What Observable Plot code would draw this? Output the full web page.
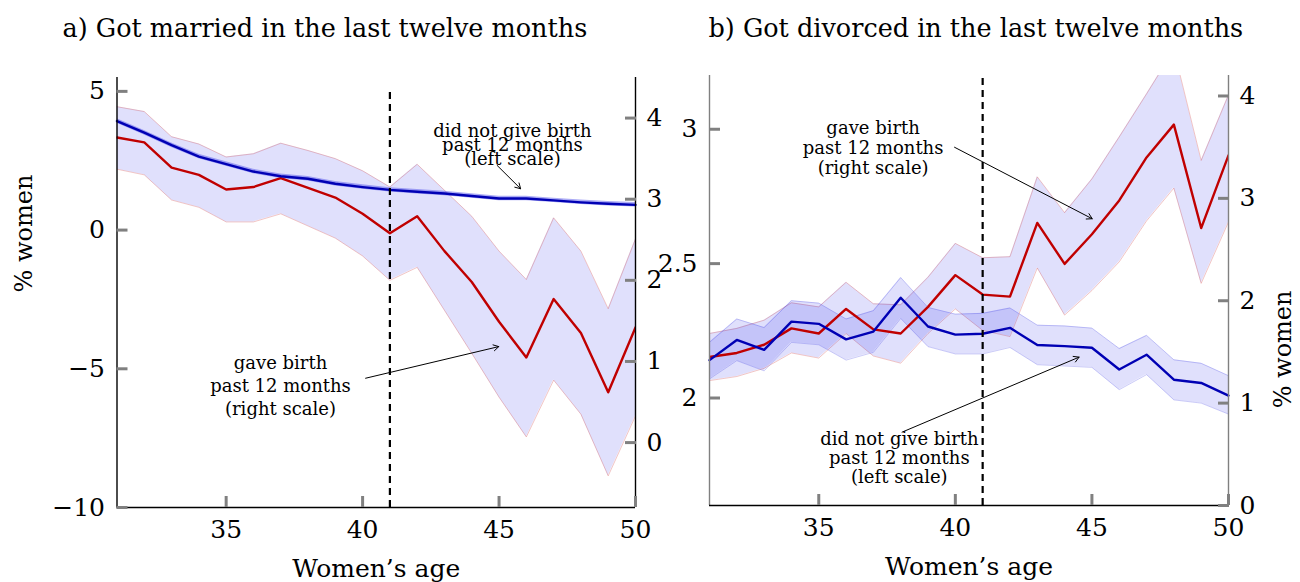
<!DOCTYPE html>
<html><head><meta charset="utf-8">
<script src="https://cdn.jsdelivr.net/npm/d3@7"></script>
<script src="https://cdn.jsdelivr.net/npm/@observablehq/plot@0.6"></script>
<style>
html,body{margin:0;padding:0;background:#fff;}
#wrap{position:relative;width:1300px;height:582px;overflow:hidden;}
#wrap svg{position:absolute;top:0;overflow:visible;}
</style></head><body><div id="wrap"></div>
<script>
// ---------- data ----------
const ages = [31,32,33,34,35,36,37,38,39,40,41,42,43,44,45,46,47,48,49,50];
const cutoffAge = 41;

// Panel a: got married (left scale: did not give birth; right scale: gave birth)
const marriedNoBirth   = [3.93,3.51,3.06,2.65,2.38,2.11,1.94,1.85,1.67,1.55,1.45,1.38,1.32,1.23,1.14,1.14,1.07,1.00,0.95,0.91];
const marriedNoBirthLo = [3.85,3.43,2.98,2.57,2.30,2.03,1.86,1.77,1.59,1.47,1.37,1.30,1.24,1.15,1.06,1.06,0.99,0.92,0.87,0.83];
const marriedNoBirthHi = [4.01,3.59,3.14,2.73,2.46,2.19,2.02,1.93,1.75,1.63,1.53,1.46,1.40,1.31,1.22,1.22,1.15,1.08,1.03,0.99];
const marriedBirth     = [3.76,3.70,3.39,3.30,3.12,3.15,3.26,3.14,3.02,2.82,2.58,2.79,2.36,1.98,1.49,1.05,1.77,1.35,0.62,1.42];
const marriedBirthLo   = [3.37,3.30,2.99,2.90,2.72,2.72,2.82,2.67,2.52,2.30,2.00,2.16,1.63,1.10,0.56,0.07,0.77,0.35,-0.41,0.33];
const marriedBirthHi   = [4.14,4.08,3.77,3.68,3.52,3.56,3.69,3.60,3.50,3.35,3.15,3.43,3.11,2.79,2.36,2.01,2.77,2.36,1.65,2.51];

// Panel b: got divorced
const divorcedNoBirth   = [2.141,2.216,2.179,2.284,2.276,2.218,2.247,2.373,2.266,2.236,2.239,2.261,2.197,2.193,2.187,2.106,2.161,2.068,2.056,2.009];
const divorcedNoBirthLo = [2.071,2.139,2.101,2.207,2.198,2.141,2.170,2.296,2.191,2.164,2.164,2.188,2.124,2.119,2.114,2.031,2.087,1.993,1.981,1.940];
const divorcedNoBirthHi = [2.207,2.294,2.262,2.362,2.353,2.294,2.325,2.448,2.337,2.312,2.315,2.335,2.271,2.268,2.260,2.184,2.233,2.142,2.129,2.083];
const divorcedBirth     = [1.45,1.49,1.57,1.73,1.68,1.92,1.72,1.68,1.94,2.25,2.06,2.04,2.76,2.36,2.65,2.98,3.40,3.72,2.71,3.42];
const divorcedBirthLo   = [1.22,1.26,1.34,1.49,1.44,1.68,1.46,1.39,1.68,1.92,1.71,1.65,2.32,1.86,2.10,2.38,2.78,3.10,2.17,2.77];
const divorcedBirthHi   = [1.68,1.73,1.81,1.98,1.94,2.18,1.97,1.96,2.23,2.56,2.42,2.43,3.21,2.86,3.19,3.60,4.02,4.45,3.37,4.01];

// axes
const xTicks = [35,40,45,50];
const leftTicksA = [-10,-5,0,5];
const rightTicksA = [0,1,2,3,4];
const leftDomainA = [-10,5.5];
const rightDomainA = [-0.8,4.5];
const leftTicksB = [2,2.5,3];
const rightTicksB = [0,1,2,3,4];
const leftDomainB = [1.6,3.2];
const rightDomainB = [0,4.2];

// text
const titleA = "a) Got married in the last twelve months";
const titleB = "b) Got divorced in the last twelve months";
const xLabel = "Women’s age";
const yLabel = "% women";
const noBirthLabel = "did not give birth\npast 12 months\n(left scale)";
const birthLabel = "gave birth\npast 12 months\n(right scale)";

// annotation anchors (age, left-scale value)
const annA = [
  {text: noBirthLabel, x: 45.49, y: 3.01, lh: 0.78, ax1: 44.93, ay1: 2.33, ax2: 45.79, ay2: 1.49},
  {text: birthLabel,   x: 36.99, y: -5.57, lh: 1.3, ax1: 40.11, ay1: -5.34, ax2: 44.99, ay2: -4.20}
];
const annB = [
  {text: birthLabel,   x: 36.99, y: 2.932, lh: 1.1, ax1: 39.97, ay1: 2.933, ax2: 45.01, ay2: 2.667},
  {text: noBirthLabel, x: 37.95, y: 1.778, lh: 1.05, ax1: 38.05, ay1: 1.873, ax2: 44.53, ay2: 2.152}
];

// ---------- drawing ----------
const FONT = "DejaVu Serif";
const RED = "#c00000", BLUE = "#0000b4";
const minus = d => d < 0 ? "\u2212" + Math.abs(d) : String(d);

function makeMap(left, right) {
  const k = (left[1]-left[0])/(right[1]-right[0]);
  return {to: r => left[0] + (r - right[0])*k, from: l => right[0] + (l - left[0])/k};
}

function panel(cfg) {
  const m = makeMap(cfg.leftDomain, cfg.rightDomain);
  const rows = ages.map((age,i) => ({
    age,
    nb: cfg.nb[i], nbLo: cfg.nbLo[i], nbHi: cfg.nbHi[i],
    b: m.to(cfg.b[i]), bLo: m.to(cfg.bLo[i]), bHi: m.to(cfg.bHi[i])
  }));
  const axisColor = cfg.sideAxisColor;
  return Plot.plot({
    width: cfg.width, height: 582,
    marginLeft: cfg.ml, marginRight: cfg.mr, marginTop: cfg.mt, marginBottom: 582 - cfg.bottom,
    x: {domain: [ages[0], ages[ages.length-1]]},
    y: {domain: cfg.leftDomain},
    style: {fontFamily: FONT, fontSize: "25px", background: "transparent", overflow: "visible", color: "black"},
    marks: [
      // gave-birth CI
      Plot.areaY(rows, {x: "age", y1: "bLo", y2: "bHi", fill: "#0000e6", fillOpacity: 0.12, clip: true}),
      Plot.lineY(rows, {x: "age", y: "bLo", stroke: "#d04040", strokeOpacity: 0.3, strokeWidth: 1, clip: true}),
      Plot.lineY(rows, {x: "age", y: "bHi", stroke: "#d04040", strokeOpacity: 0.3, strokeWidth: 1, clip: true}),
      // no-birth CI
      Plot.areaY(rows, {x: "age", y1: "nbLo", y2: "nbHi", fill: cfg.nbFill, fillOpacity: cfg.nbFillOpacity, clip: true}),
      cfg.nbEdges ? Plot.lineY(rows, {x: "age", y: "nbLo", stroke: "#3030e0", strokeOpacity: 0.25, strokeWidth: 1}) : null,
      cfg.nbEdges ? Plot.lineY(rows, {x: "age", y: "nbHi", stroke: "#3030e0", strokeOpacity: 0.25, strokeWidth: 1}) : null,
      // lines
      Plot.lineY(rows, {x: "age", y: "b", stroke: RED, strokeWidth: 2.4, clip: true}),
      Plot.lineY(rows, {x: "age", y: "nb", stroke: BLUE, strokeWidth: 2.4}),
      // cutoff
      Plot.ruleX([cutoffAge], {y1: cfg.leftDomain[0], y2: cfg.dashTop, stroke: "black", strokeWidth: 2.2, strokeDasharray: "7,5"}),
      // frame lines
      Plot.ruleX([ages[0]], {stroke: axisColor, strokeWidth: 1.4}),
      Plot.ruleX([ages[ages.length-1]], {stroke: axisColor, strokeWidth: 1.4}),
      Plot.ruleY([cfg.leftDomain[0]], {stroke: "black", strokeWidth: 1.4}),
      // axes
      Plot.axisX({ticks: xTicks, tickSize: -11, tickPadding: 24, stroke: "#808080", strokeWidth: 3, fill: "black", label: null, tickFormat: d => String(d)}),
      Plot.axisY({anchor: "left", ticks: cfg.leftTicks, tickSize: -11, tickPadding: 23, stroke: "#808080", strokeWidth: 3, fill: "black", label: null, tickFormat: minus}),
      Plot.axisY({anchor: "right", ticks: cfg.rightTicks.map(m.to), tickSize: -11, tickPadding: 22, stroke: "#808080", strokeWidth: 3, fill: "black", label: null, tickFormat: d => minus(Math.round(m.from(d)))}),
      // annotations
      ...cfg.ann.map(a => Plot.text([a], {x: "x", y: "y", text: "text", fontSize: 18, lineAnchor: "middle", textAnchor: "middle", lineHeight: a.lh})),
      Plot.arrow(cfg.ann, {x1: "ax1", y1: "ay1", x2: "ax2", y2: "ay2", stroke: "black", strokeWidth: 1, headLength: 9}),
      // labels
      Plot.text([cfg.title], {frameAnchor: "top-left", dx: cfg.titleDx, dy: 28.6 - cfg.mt, textAnchor: "start", lineAnchor: "middle", fontSize: 25.5}),
      Plot.text([xLabel], {frameAnchor: "bottom", dy: 61, lineAnchor: "middle", fontSize: 25}),
      Plot.text([yLabel], {frameAnchor: cfg.yLabelSide, dx: cfg.yLabelDx, rotate: -90, lineAnchor: "middle", fontSize: 24})
    ]
  });
}

const svgA = panel({
  width: 670, ml: 116.5, mr: 35, mt: 77, bottom: 507,
  leftDomain: leftDomainA, rightDomain: rightDomainA, leftTicks: leftTicksA, rightTicks: rightTicksA,
  nb: marriedNoBirth, nbLo: marriedNoBirthLo, nbHi: marriedNoBirthHi,
  b: marriedBirth, bLo: marriedBirthLo, bHi: marriedBirthHi,
  nbFill: "#4848e8", nbFillOpacity: 0.45, nbEdges: false,
  sideAxisColor: "black", dashTop: 5, ann: annA,
  title: titleA, titleDx: 62 - 116.5,
  yLabelSide: "left", yLabelDx: 24 - 116.5
});
const svgB = panel({
  width: 650, ml: 59, mr: 72, mt: 75, bottom: 505,
  leftDomain: leftDomainB, rightDomain: rightDomainB, leftTicks: leftTicksB, rightTicks: rightTicksB,
  nb: divorcedNoBirth, nbLo: divorcedNoBirthLo, nbHi: divorcedNoBirthHi,
  b: divorcedBirth, bLo: divorcedBirthLo, bHi: divorcedBirthHi,
  nbFill: "#0000e6", nbFillOpacity: 0.12, nbEdges: true,
  sideAxisColor: "#808080", dashTop: leftDomainB[1], ann: annB,
  title: titleB, titleDx: 58 - 59,
  yLabelSide: "right", yLabelDx: 633 - 578
});
svgA.style.left = "0px";
svgB.style.left = "650px";
document.getElementById("wrap").append(svgA, svgB);
</script></body></html>
